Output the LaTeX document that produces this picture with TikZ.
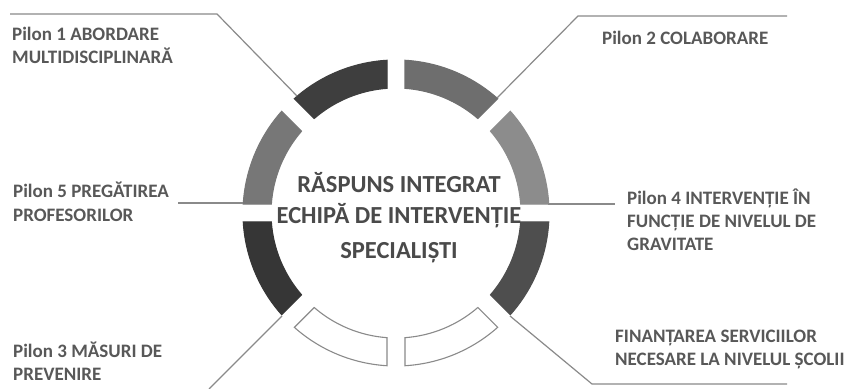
\documentclass[tikz,border=0pt]{standalone}
\usepackage{fontspec}
\setmainfont{Carlito}
\usetikzlibrary{calc}
\definecolor{lblgray}{HTML}{585858}
\definecolor{ctrgray}{HTML}{4A4A4A}
\definecolor{linegray}{HTML}{8A8A8A}
\definecolor{segA}{HTML}{8C8C8C}
\definecolor{segB}{HTML}{6E6E6E}
\definecolor{segC}{HTML}{3E3E3E}
\definecolor{segD}{HTML}{777777}
\definecolor{segE}{HTML}{363636}
\definecolor{segH}{HTML}{4E4E4E}
\newcommand\ringseg[4]{%
  \path[fill=#3,draw=#4,line width=1.1pt]
    ($(C)+(#1+\dO:153pt)$) arc[start angle=#1+\dO, end angle=#2-\dO, radius=153pt]
    -- ($(C)+(#2-\dI:125pt)$) arc[start angle=#2-\dI, end angle=#1+\dI, radius=125pt]
    -- cycle;}
\begin{document}
\begin{tikzpicture}[x=1pt,y=1pt,
  lbl/.style={anchor=north west,inner sep=0pt,align=left,text=lblgray,
    font=\fontsize{19}{23}\selectfont\bfseries},
  ctr/.style={anchor=north,inner sep=0pt,align=center,text=ctrgray,
    font=\fontsize{24.5}{31}\selectfont\bfseries},
  conn/.style={draw=linegray,line width=1.2pt}]
\fill[white] (0,0) rectangle (850,388);
\useasboundingbox (0,0) rectangle (850,388);
\coordinate (C) at (396,175);
\pgfmathsetmacro\dO{asin(9/153)}
\pgfmathsetmacro\dI{asin(9/125)}
% ring
\ringseg{0}{45}{segA}{segA}
\ringseg{45}{90}{segB}{segB}
\ringseg{90}{135}{segC}{segC}
\ringseg{135}{180}{segD}{segD}
\ringseg{180}{225}{segE}{segE}
\ringseg{225}{270}{white}{linegray}
\ringseg{270}{315}{white}{linegray}
\ringseg{315}{360}{segH}{segH}
% connectors
\coordinate (c1a) at (10,374);
\coordinate (c1b) at (217,374);
\coordinate (c1c) at (297,292);
\draw[conn] (c1a) -- (c1b) -- (c1c);
\coordinate (c2a) at (787,372);
\coordinate (c2b) at (578,372);
\coordinate (c2c) at (497,290);
\draw[conn] (c2a) -- (c2b) -- (c2c);
\coordinate (c5a) at (178,185);
\coordinate (c5b) at (243,185);
\draw[conn] (c5a) -- (c5b);
\coordinate (c4a) at (548,184);
\coordinate (c4b) at (615,184);
\draw[conn] (c4a) -- (c4b);
\coordinate (c3a) at (282,72);
\coordinate (c3b) at (209,-1);
\draw[conn] (c3a) -- (c3b);
\coordinate (c6a) at (510,72);
\coordinate (c6b) at (592,4);
\coordinate (c6c) at (787,4);
\draw[conn] (c6a) -- (c6b) -- (c6c);
% labels
\node[lbl] (p1) at (12,364.7) {\rule{0pt}{17pt}Pilon 1 ABORDARE\\MULTIDISCIPLINARĂ};
\node[lbl] (p2) at (602,360.7) {\rule{0pt}{17pt}Pilon 2 COLABORARE};
\node[lbl,font=\fontsize{19}{24.5}\selectfont\bfseries] (p5) at (13,207.7) {\rule{0pt}{17pt}Pilon 5 PREGĂTIREA\\PROFESORILOR};
\node[lbl] (p4) at (627,200.7) {\rule{0pt}{17pt}Pilon 4 INTERVENȚIE ÎN\\FUNCȚIE DE NIVELUL DE\\GRAVITATE};
\node[lbl] (p6) at (615,62.7) {\rule{0pt}{17pt}FINANȚAREA SERVICIILOR\\NECESARE LA NIVELUL ȘCOLII};
\node[lbl] (p3) at (13,47.7) {\rule{0pt}{17pt}Pilon 3 MĂSURI DE\\PREVENIRE};
\node[ctr] (ctr) at (399,216.2) {\rule{0pt}{21pt}RĂSPUNS INTEGRAT\\ECHIPĂ DE INTERVENȚIE\\[4pt]SPECIALIȘTI};
\end{tikzpicture}
\end{document}
